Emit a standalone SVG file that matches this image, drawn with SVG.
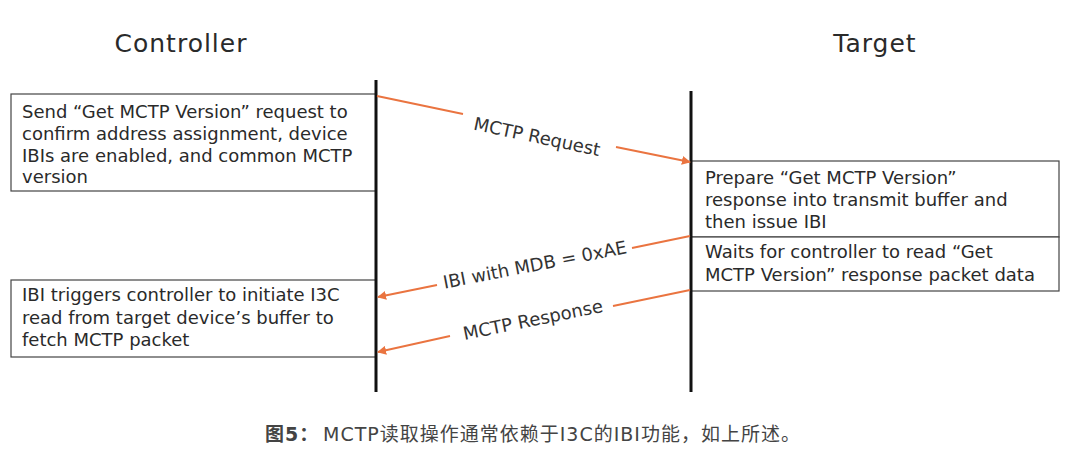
<svg xmlns="http://www.w3.org/2000/svg" width="1080" height="453" viewBox="0 0 1080 453">
<defs>
<marker id="ah" viewBox="0 0 10 10" refX="9" refY="5" markerWidth="9" markerHeight="9" markerUnits="userSpaceOnUse" orient="auto">
<path d="M0,0 L10,5 L0,10 z" fill="#EA7440"/>
</marker>
<style>
.t{font-family:"DejaVu Sans","Liberation Sans",sans-serif;font-size:18px;fill:#2a2a2a}
.h{font-family:"DejaVu Sans","Liberation Sans",sans-serif;font-size:25px;letter-spacing:1px;fill:#2a2a2a;text-anchor:middle}
.lbl{font-family:"DejaVu Sans","Liberation Sans",sans-serif;font-size:18px;fill:#333;text-anchor:middle}
.box{fill:#fff;stroke:#444;stroke-width:1.2}
.life{stroke:#111;stroke-width:3}
.arr{stroke:#EA7440;stroke-width:2;fill:none}
.cap{font-family:"DejaVu Sans","Noto Sans CJK SC",sans-serif;font-size:19px;letter-spacing:1px;fill:#444}
</style>
</defs>
<rect width="1080" height="453" fill="#fff"/>
<g id="controller-head"><text class="h" x="181" y="52">Controller</text></g>
<g id="target-head"><text class="h" x="875" y="52">Target</text></g>

<g id="box-send">
<rect class="box" x="11" y="94" width="365" height="97"/>
<text class="t" x="22" y="118">Send “Get MCTP Version” request to</text>
<text class="t" x="22" y="140">confirm address assignment, device</text>
<text class="t" x="22" y="162">IBIs are enabled, and common MCTP</text>
<text class="t" x="22" y="183">version</text>
</g>
<g id="box-ibi">
<rect class="box" x="11" y="280" width="365" height="77"/>
<text class="t" x="22" y="301">IBI triggers controller to initiate I3C</text>
<text class="t" x="22" y="324">read from target device’s buffer to</text>
<text class="t" x="22" y="346">fetch MCTP packet</text>
</g>
<g id="box-prepare">
<rect class="box" x="691" y="161" width="368" height="76"/>
<text class="t" x="705" y="184">Prepare “Get MCTP Version”</text>
<text class="t" x="705" y="206">response into transmit buffer and</text>
<text class="t" x="705" y="228">then issue IBI</text>
</g>
<g id="box-wait">
<rect class="box" x="691" y="237" width="368" height="54"/>
<text class="t" x="705" y="258">Waits for controller to read “Get</text>
<text class="t" x="705" y="281">MCTP Version” response packet data</text>
</g>

<g id="lifelines">
<line class="life" x1="376" y1="80" x2="376" y2="392"/>
<line class="life" x1="691" y1="91" x2="691" y2="392"/>
</g>

<g id="connectors">
<line class="arr" x1="377" y1="96" x2="463" y2="114"/>
<line class="arr" x1="616" y1="147" x2="690" y2="162" marker-end="url(#ah)"/>
<text class="lbl" transform="translate(537,137) rotate(11.9)" x="0" y="6">MCTP Request</text>

<line class="arr" x1="690" y1="236" x2="632" y2="248"/>
<line class="arr" x1="437" y1="285" x2="378" y2="297" marker-end="url(#ah)"/>
<text class="lbl" transform="translate(535,265) rotate(-11)" x="0" y="6">IBI with MDB = 0xAE</text>

<line class="arr" x1="690" y1="290" x2="613" y2="306"/>
<line class="arr" x1="450" y1="336" x2="378" y2="352" marker-end="url(#ah)"/>
<text class="lbl" transform="translate(533,320) rotate(-11.5)" x="0" y="6">MCTP Response</text>
</g>

<g id="caption">
<text class="cap" x="265" y="441"><tspan font-weight="bold">图5：</tspan><tspan x="323">MCTP读取操作通常依赖于I3C的IBI功能，如上所述。</tspan></text>
</g>
</svg>
